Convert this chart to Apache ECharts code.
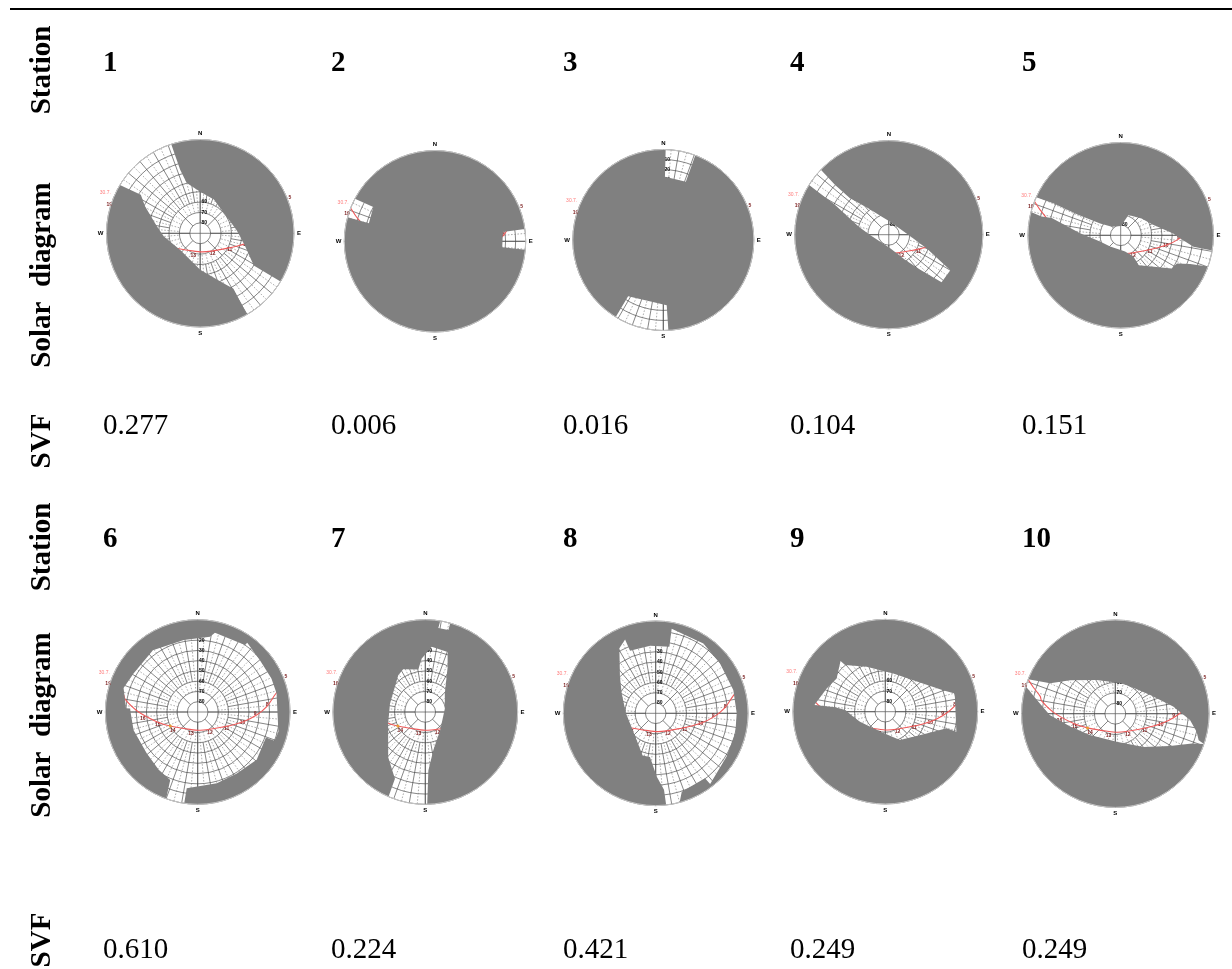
<!DOCTYPE html>
<html>
<head>
<meta charset="utf-8">
<title>Solar diagrams</title>
<script src="https://cdn.jsdelivr.net/npm/echarts@6/dist/echarts.min.js"></script>
<style>
  html, body { margin: 0; padding: 0; background: #fff; }
  #chart { width: 1232px; height: 969px; }
</style>
</head>
<body>
<div id="chart"></div>
<script>
const stationIds = ["1", "2", "3", "4", "5", "6", "7", "8", "9", "10"];
const svfValues = ["0.277", "0.006", "0.016", "0.104", "0.151", "0.610", "0.224", "0.421", "0.249", "0.249"];

// visible sky per station, one or more outlines of [azimuth, elevation], clockwise
const sky1 = [[[342,0],[342.5,26],[345,40],[0,50],[22,55],[58,60],[85,55],[103,47],[121,30],[121,0],[150,0],[149,28],[155,37],[180,55],[230,65],[265,55],[279,48],[296,31],[303,22],[301,0]]];
const sky2 = [
  [[285.3,0],[298,0],[299,20],[285.3,22]],
  [[82.2,0],[95.4,0],[95.1,23],[82.1,22]],
];
const sky3 = [
  [[1.5,0],[20.7,0],[21.2,28],[1.5,27]],
  [[176.8,0],[211.7,0],[212,24],[177,25]],
];
const sky4 = [[[313.7,0],[312.8,20],[313.2,39],[322,58],[339,71.5],[6,77.5],[91,71],[110,51],[120,22],[132,22],[138,45],[147,61],[174,77],[269,72],[285,60],[299,31],[302,0]]];
const sky5 = [[[294.3,0],[295.4,17.5],[295.7,44],[300,67],[314,78],[2,81],[21,69],[51,64],[72,57],[88,39],[93,32],[99,18.5],[99.5,0],[109.7,0],[112.5,17],[116.6,29],[123,31],[149,56],[149,66],[165,73.6],[223,75],[253,69],[273,50.5],[284,21],[283.3,11],[284.6,0]]];
const sky6 = [[[349,18.5],[9.3,15.6],[12.3,11],[35.2,10],[35.6,7],[50,11],[65.5,11],[76.7,11],[103.7,9],[110.5,10],[110.4,19],[129,16],[147.5,19],[165,18],[188.2,15],[188.4,0],[200,0],[202,18.5],[214,22],[231,26],[254,25],[269,24.7],[273,24],[273,20],[288,14],[301,17],[324,15.7]]];
const sky7 = [
  [[5.6,26],[20.4,27.6],[26.4,41],[47,64],[80,70.6],[141,67],[168,52],[177,33],[178.8,0],[203.5,0],[204.5,18.6],[219.4,33],[252.5,52],[283.3,54.6],[323.6,45.6],[332.7,43],[350.7,48],[356,38]],
  [[9.3,0],[15.7,0],[15.7,7],[8.8,7]],
];
const sky8 = [[[10.7,6],[34.3,7.5],[52,10.6],[73.3,11],[90,11],[104,10],[121.4,9],[142.4,3],[142.8,10.5],[161.6,9.5],[165,0],[173.5,0],[173.8,15],[179,28],[187.5,47],[197.3,47],[215.5,58],[270,61],[300.5,51.5],[315.8,40],[330.8,17.4],[337.5,12],[337.7,24],[355.2,24],[11.6,23.7]]];
const sky9 = [[[318.6,24],[319.2,30],[337.5,42.5],[11.8,52],[41.5,49],[69.5,30],[75.3,20],[105.7,18],[105.2,28],[117.7,44.5],[152.6,59],[195,70],[248.5,63.5],[261,58.4],[272.4,51],[275,41],[275.4,20.5],[291.7,28.5],[304.4,32.5]]];
const sky10 = [[[291.5,0],[295,21],[306.6,36],[331,53],[14.8,60],[61.7,52],[83,34],[94.8,18],[102.5,10],[107.6,6],[108.9,0],[111.2,11],[120.6,29],[139.7,48],[177.3,63],[230,58],[254,45],[268.8,27],[279,15],[287,0]]];
const skyOutlines = [sky1, sky2, sky3, sky4, sky5, sky6, sky7, sky8, sky9, sky10];

// sun path for the day, same for every station
const sunAzimuth = [70, 74, 77.6, 85.6, 93, 102, 120, 172.6, 204, 243, 256.7, 271, 280, 283, 288, 291.5];
const sunElevation = [0, 7, 13, 22.5, 32.5, 44.5, 61, 72, 71.5, 60, 49, 31, 18, 16, 7, 0];
const hourLabels = ["16", "15", "14", "13", "12", "11", "10", "9", "8"];
const hourAzimuth = [263.4, 252, 233.3, 197.4, 148.8, 119.4, 103.4, 92, 84.3];
const hourElevation = [36, 49, 59.6, 68, 67, 57.6, 45, 34, 22];
const rimLabels = ["5", "19"];
const rimAzimuth = [68.2, 287.4];
const rimElevation = [-2.7, -1.5];
const sunMarker = [243, 60];
const dateLabel = "30.7.";
const dateAzimuth = 293;
const dateElevation = -9;
const elevationLabels = [80, 70, 60, 50, 40, 30, 20, 10];
const compass = { 0: "N", 90: "E", 180: "S", 270: "W", 360: "" };

// layout
const discCenters = [[200.2, 233.3], [435, 241.3], [663.3, 240], [888.8, 234.7], [1120.7, 235.3], [197.7, 712], [425.3, 712], [655.7, 713.3], [885.3, 711.7], [1115.3, 713.7]];
const discRadius = [93.7, 90.7, 90.5, 94, 92.7, 92.3, 92.3, 92.3, 92.3, 93.7];
const columnX = [103, 331, 563, 790, 1022];
const SERIF = '"Liberation Serif", "Times New Roman", serif';
const SANS = '"Liberation Sans", Arial, sans-serif';

const chart = echarts.init(document.getElementById("chart"), null, { renderer: "canvas" });

// full axes cross the disc, the rest only run through their own ring
function gridLines(api) {
  const lines = [];
  const add = (az, from, to, dashed) => {
    const a = api.coord([from, az]);
    const b = api.coord([to, az]);
    lines.push({
      type: "line",
      shape: { x1: a[0], y1: a[1], x2: b[0], y2: b[1] },
      style: dashed
        ? { stroke: "#777", lineWidth: 0.6, lineDash: [1.6, 1.6] }
        : { stroke: "#444", lineWidth: 0.65 },
    });
  };
  for (let az = 0; az < 360; az += 45) add(az, 60, 80, false);
  for (let az = 0; az < 360; az += 90) add(az, 0, 90, false);
  for (let az = 0; az < 360; az += 10) add(az, 0, 60, false);
  for (let az = 5; az < 360; az += 10) add(az, 0, 70, true);
  return lines;
}

function xy(api, az, el) {
  const p = api.coord([el, az]);
  return p[0].toFixed(2) + " " + p[1].toFixed(2);
}

// gray obstruction = whole disc with the sky outlines cut out (opposite winding)
function maskPath(api, outlines) {
  const parts = [];
  for (let az = 360; az > 0; az -= 3) parts.push((az === 360 ? "M" : "L") + xy(api, az, 0));
  parts.push("Z");
  outlines.forEach((outline) => {
    outline.forEach((pt, i) => {
      const prev = outline[(i + outline.length - 1) % outline.length];
      if (i > 0 && prev[1] === 0 && pt[1] === 0) {
        const span = ((pt[0] - prev[0]) + 360) % 360;
        for (let t = 2; t < span; t += 2) parts.push("L" + xy(api, prev[0] + t, 0));
      }
      parts.push((i === 0 ? "M" : "L") + xy(api, pt[0], pt[1]));
    });
    const first = outline[0];
    const last = outline[outline.length - 1];
    if (first[1] === 0 && last[1] === 0) {
      const span = ((first[0] - last[0]) + 360) % 360;
      for (let t = 2; t < span; t += 2) parts.push("L" + xy(api, last[0] + t, 0));
    }
    parts.push("Z");
  });
  return parts.join(" ");
}

function smallText(api, az, el, text, fill, size, dx, weight) {
  const p = api.coord([el, az]);
  return {
    type: "text",
    x: p[0] + (dx || 0),
    y: p[1],
    style: {
      text: text,
      fill: fill,
      font: (weight || "bold") + " " + size + "px " + SANS,
      textAlign: "center",
      textVerticalAlign: "middle",
    },
  };
}

const polar = stationIds.map((_, i) => ({ center: discCenters[i], radius: [0, discRadius[i]] }));

const angleAxis = stationIds.map((_, i) => ({
  polarIndex: i,
  type: "value",
  min: 0,
  max: 360,
  interval: 90,
  startAngle: 90,
  z: 6,
  axisLine: { lineStyle: { color: "#c8c8c8", width: 1 } },
  axisTick: { show: false },
  splitLine: { show: false },
  axisLabel: {
    margin: 3,
    fontSize: 6,
    fontWeight: "bold",
    fontFamily: SANS,
    color: "#000",
    formatter: (v) => compass[v],
  },
}));

const radiusAxis = stationIds.map((_, i) => ({
  polarIndex: i,
  type: "value",
  min: 0,
  max: 90,
  interval: 10,
  inverse: true,
  axisLine: { show: false },
  axisTick: { show: false },
  axisLabel: { show: false },
  splitLine: { lineStyle: { color: "#444", width: 0.65 } },
}));

const series = [];
stationIds.forEach((_, i) => {
  series.push({
    type: "custom",
    coordinateSystem: "polar",
    polarIndex: i,
    z: 2,
    silent: true,
    data: [[0, 0]],
    renderItem: (params, api) => {
      const children = gridLines(api);
      elevationLabels.forEach((el) => children.push(smallText(api, 0, el, String(el), "#000", 5, 4)));
      hourLabels.forEach((h, k) => children.push(smallText(api, hourAzimuth[k], hourElevation[k], h, "#7a1c1c", 5, 0)));
      return { type: "group", children };
    },
  });
  series.push({
    type: "line",
    coordinateSystem: "polar",
    polarIndex: i,
    z: 3,
    smooth: 0.3,
    silent: true,
    clip: false,
    symbol: "none",
    lineStyle: { color: "#ef5a5a", width: 1.1 },
    data: sunAzimuth.map((az, k) => [sunElevation[k], az]),
  });
  series.push({
    type: "scatter",
    coordinateSystem: "polar",
    polarIndex: i,
    z: 3,
    silent: true,
    symbolSize: 3,
    itemStyle: { color: "#eda21f" },
    data: [[sunMarker[1], sunMarker[0]]],
  });
  series.push({
    type: "custom",
    coordinateSystem: "polar",
    polarIndex: i,
    z: 4,
    silent: true,
    data: [[0, 0]],
    renderItem: (params, api) => ({
      type: "path",
      shape: { pathData: maskPath(api, skyOutlines[i]) },
      style: { fill: "#808080", stroke: null },
    }),
  });
  series.push({
    type: "custom",
    coordinateSystem: "polar",
    polarIndex: i,
    z: 5,
    silent: true,
    data: [[0, 0]],
    renderItem: (params, api) => {
      const children = rimLabels.map((h, k) => smallText(api, rimAzimuth[k], rimElevation[k], h, "#7a1c1c", 5, 0));
      children.push(smallText(api, dateAzimuth, dateElevation, dateLabel, "#ff7a7a", 5, 0, "normal"));
      return { type: "group", children };
    },
  });
});

// table text around the diagrams
function label(text, x, y, opts) {
  return {
    type: "text",
    x: x,
    y: y,
    rotation: opts.rotate ? Math.PI / 2 : 0,
    style: {
      text: text,
      fill: "#000",
      font: (opts.bold ? "bold " : "") + "29px " + SERIF,
      textAlign: opts.rotate ? "center" : "left",
      textVerticalAlign: opts.rotate ? "middle" : "bottom",
    },
  };
}

const graphicEls = [
  { type: "rect", shape: { x: 10, y: 8, width: 1222, height: 2 }, style: { fill: "#000" } },
  label("Station", 43, 70, { bold: true, rotate: true }),
  label("Solar  diagram", 43, 275, { bold: true, rotate: true }),
  label("SVF", 43, 441, { bold: true, rotate: true }),
  label("Station", 43, 547, { bold: true, rotate: true }),
  label("Solar  diagram", 43, 725, { bold: true, rotate: true }),
  label("SVF", 43, 940, { bold: true, rotate: true }),
];
stationIds.forEach((id, i) => {
  const col = columnX[i % 5];
  const row = i < 5 ? 0 : 1;
  graphicEls.push(label(id, col, row ? 554 : 78, { bold: true }));
  graphicEls.push(label(svfValues[i], col, row ? 965 : 441, {}));
});

chart.setOption({
  backgroundColor: "#fff",
  animation: false,
  polar,
  angleAxis,
  radiusAxis,
  series,
  graphic: { elements: graphicEls },
});
</script>
</body>
</html>
